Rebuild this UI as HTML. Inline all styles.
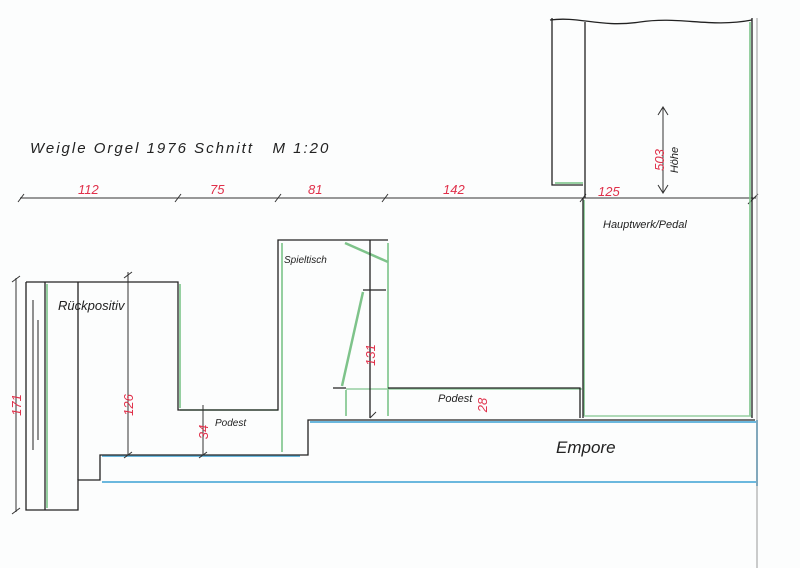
<!DOCTYPE html>
<html><head><style>body{margin:0;background:#fdfdfd}svg{display:block}
text{font-family:"Liberation Sans",sans-serif;font-style:italic}</style></head><body>
<svg width="800" height="568" viewBox="0 0 800 568" xmlns="http://www.w3.org/2000/svg">
<rect width="800" height="568" fill="#fcfdfd"/>
<text x="30" y="153" font-size="15" fill="#222" letter-spacing="2">Weigle Orgel 1976 Schnitt&#160;&#160; M 1:20</text>
<g stroke="#333" stroke-width="1" fill="none">
<line x1="20" y1="198" x2="756" y2="198"/>
<path d="M18 202l6-8M175 202l6-8M275 202l6-8M382 202l6-8M580 202l6-8M748 204l10-10"/>
</g>
<g fill="#e0304a" font-size="13" font-style="italic">
<text x="78" y="194">112</text><text x="210" y="194">75</text><text x="308" y="194">81</text>
<text x="443" y="194">142</text><text x="598" y="196">125</text>
</g>
<g stroke="#7cc48a" stroke-width="2" fill="none" opacity="0.8">
<path d="M47 284V508M180 284V408M282 243V452M388 243V416M346 390V416M584 200V416M750 22V416M555 183H583"/>
<path d="M346 389H582M584 416H752M180 410H278" stroke-width="1.5"/>
<path d="M345 243L388 262M363 292L342 386" stroke="#5fb56e" stroke-width="2.5"/>
</g>
<g stroke="#6bb8de" stroke-width="2" fill="none">
<path d="M310 422H756M102 482H756M102 456H300M757 420V486"/>
</g>
<g stroke="#222" stroke-width="1.3" fill="none">
<path d="M26 282H178V410H278V240H388"/>
<path d="M26 282V510H78V480H100V455H308V420H755"/>
<path d="M45 282V510M78 282V480"/>
<path d="M370 240V418M363 290H386M333 388H346"/>
<path d="M388 388H580V418M583 198V418M552 18V185H583M585 22V198M752 18V418"/>
<path d="M550 20C580 16 600 28 640 22C680 16 710 28 752 20"/>
<path d="M757 18V568" stroke="#999" stroke-width="1"/>
<path d="M33 300V450M38 320V440" stroke="#555"/>
</g>
<g stroke="#333" stroke-width="1" fill="none">
<path d="M16 278V512M12 282l8-6M12 514l8-6"/>
<path d="M128 272V455M124 278l8-6M124 458l8-6"/>
<path d="M203 405V455M199 458l8-6"/>
<path d="M370 418l6-6M663 108V192M658 115l5-8 5 8M658 185l5 8 5-8"/>
</g>
<g fill="#e0304a" font-size="13">
<text transform="translate(21,405) rotate(-90)" text-anchor="middle">171</text>
<text transform="translate(133,405) rotate(-90)" text-anchor="middle">126</text>
<text transform="translate(208,432) rotate(-90)" text-anchor="middle">34</text>
<text transform="translate(375,355) rotate(-90)" text-anchor="middle">131</text>
<text transform="translate(487,405) rotate(-90)" text-anchor="middle">28</text>
<text transform="translate(664,160) rotate(-90)" text-anchor="middle">503</text>
</g>
<text transform="translate(678,160) rotate(-90)" text-anchor="middle" font-size="11" fill="#222">Höhe</text>
<text x="58" y="310" font-size="13" fill="#222">Rückpositiv</text>
<text x="284" y="263" font-size="10" fill="#222">Spieltisch</text>
<text x="215" y="426" font-size="10" fill="#222">Podest</text>
<text x="438" y="402" font-size="11" fill="#222">Podest</text>
<text x="603" y="228" font-size="11" fill="#222">Hauptwerk/Pedal</text>
<text x="556" y="453" font-size="17" fill="#222">Empore</text>
</svg>
</body></html>
